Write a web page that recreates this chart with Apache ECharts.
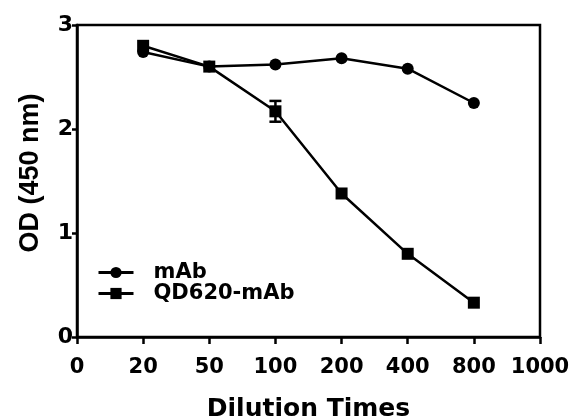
<!DOCTYPE html>
<html>
<head>
<meta charset="utf-8">
<script src="https://cdn.jsdelivr.net/npm/echarts@6/dist/echarts.min.js"></script>
<style>
  html, body { margin: 0; padding: 0; background: #fff; }
  #chart { width: 569px; height: 419px; }
</style>
</head>
<body>
<div id="chart"></div>
<script>
// dilution categories, first and last are only axis ends
var dilutions = ['0', '20', '50', '100', '200', '400', '800', '1000'];
var mAb = [null, 2.74, 2.60, 2.62, 2.68, 2.58, 2.25, null];
var qd620 = [null, 2.80, 2.60, 2.17, 1.38, 0.80, 0.33, null];
// error bars (only visible one is at 100)
var qd620Err = [null, 0, 0, 0.1, 0, 0, 0, null];
var yTicks = [0, 1, 2, 3];

var font = 'DejaVu Sans, sans-serif';
var font2 = 'Liberation Sans, Arial, sans-serif';
var chart = echarts.init(document.getElementById('chart'));

var errData = [];
for (var i = 0; i < qd620.length; i++) {
    if (qd620[i] != null && qd620Err[i] > 0) {
        errData.push([i, qd620[i] - qd620Err[i], qd620[i] + qd620Err[i]]);
    }
}

var option = {
    backgroundColor: '#fff',
    animation: false,
    grid: {
        left: 77, right: 29, top: 25, bottom: 82,
        outerBoundsMode: 'none',
        show: true, borderColor: '#000', borderWidth: 2.5
    },
    legend: {
        orient: 'vertical',
        left: 97, top: 262,
        padding: 0,
        itemGap: 0,
        itemWidth: 35, itemHeight: 14,
        lineStyle: { width: 3 },
        data: ['mAb', 'QD620-mAb'],
        textStyle: {
            fontFamily: font, fontWeight: 'bold', fontSize: 21, color: '#000',
            lineHeight: 20,
            padding: [0, 0, 0, 15]
        }
    },
    xAxis: {
        type: 'category',
        data: dilutions,
        boundaryGap: false,
        name: 'Dilution Times',
        nameLocation: 'middle',
        nameGap: 60,
        nameTextStyle: { fontFamily: font, fontWeight: 'bold', fontSize: 25, color: '#000' },
        axisLine: { lineStyle: { color: '#000', width: 2.5 } },
        axisTick: { interval: 0, length: 7, lineStyle: { color: '#000', width: 2.5 } },
        axisLabel: { interval: 0, margin: 20, fontFamily: font, fontWeight: 'bold', fontSize: 21, color: '#000' },
        splitLine: { show: false }
    },
    yAxis: {
        type: 'value',
        min: yTicks[0], max: yTicks[yTicks.length - 1], interval: 1,
        name: 'OD (450 nm)',
        nameLocation: 'middle',
        nameGap: 33,
        nameRotate: 90,
        nameTextStyle: { fontFamily: font2, fontWeight: 'bold', fontSize: 27, color: '#000', padding: [0, 0, 0, 16] },
        axisLine: { show: true, lineStyle: { color: '#000', width: 2.5 } },
        axisTick: { show: true, length: 5, lineStyle: { color: '#000', width: 2.5 } },
        axisLabel: { margin: 4, fontFamily: font, fontWeight: 'bold', fontSize: 22, color: '#000' },
        splitLine: { show: false }
    },
    series: [
        {
            name: 'mAb',
            type: 'line',
            data: mAb,
            symbol: 'circle',
            symbolSize: 12,
            showAllSymbol: true,
            lineStyle: { color: '#000', width: 2.5 },
            itemStyle: { color: '#000' }
        },
        {
            name: 'QD620-mAb',
            type: 'line',
            data: qd620,
            symbol: 'rect',
            symbolSize: 12,
            showAllSymbol: true,
            lineStyle: { color: '#000', width: 2.5 },
            itemStyle: { color: '#000' }
        },
        {
            name: 'err',
            type: 'custom',
            data: errData,
            renderItem: function (params, api) {
                var x = api.value(0);
                var lo = api.coord([x, api.value(1)]);
                var hi = api.coord([x, api.value(2)]);
                var w = 6;
                var st = { stroke: '#000', lineWidth: 2.5 };
                return {
                    type: 'group',
                    children: [
                        { type: 'line', shape: { x1: lo[0], y1: lo[1], x2: hi[0], y2: hi[1] }, style: st },
                        { type: 'line', shape: { x1: lo[0] - w, y1: lo[1], x2: lo[0] + w, y2: lo[1] }, style: st },
                        { type: 'line', shape: { x1: hi[0] - w, y1: hi[1], x2: hi[0] + w, y2: hi[1] }, style: st }
                    ]
                };
            },
            z: 3
        }
    ]
};

chart.setOption(option);
</script>
</body>
</html>
